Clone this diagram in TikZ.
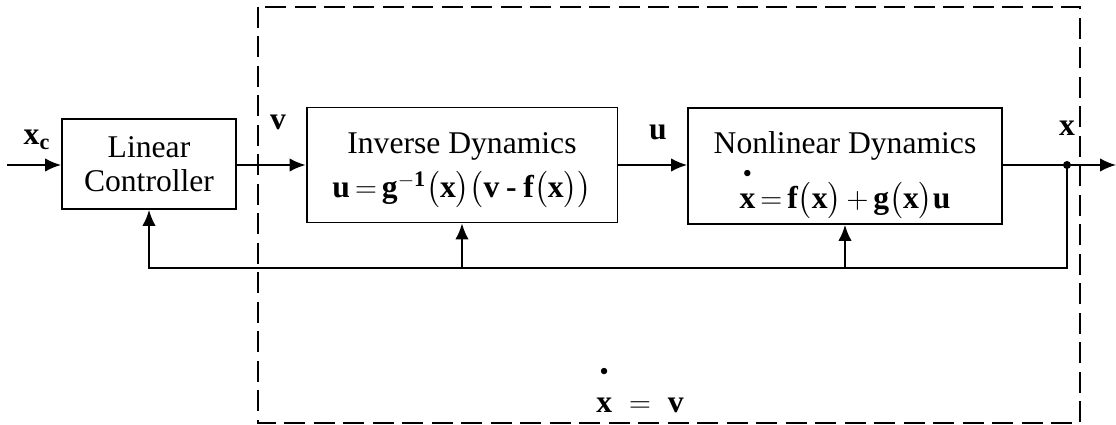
\documentclass[tikz,border=0pt]{standalone}
\usepackage{amsmath}
\usepackage{fontspec}
\setmainfont{Liberation Serif}
\usetikzlibrary{arrows.meta}

\newcommand{\xdotb}[1][6pt]{\overset{\raisebox{#1}{$\scriptscriptstyle\bullet$}}{\mathbf{x}}}
\newcommand{\bminus}{\mathbin{\textbf{-}}}
\newcommand{\beq}{\,{=}\,}

\begin{document}
\begin{tikzpicture}[x=0.02cm, y=-0.02cm, >={Latex[length=3.2mm,width=2.7mm]}, line width=1.1pt,
    font=\fontsize{18}{19}\selectfont,
    block/.style={draw, line width=1.1pt, align=center, inner sep=0pt},
    lbl/.style={font=\fontsize{18}{19}\selectfont\bfseries}]
  \useasboundingbox (0,0) rectangle (1116,425);

  % dashed border of the linearized part
  \draw[line width=1.4pt, dash pattern=on 0.42cm off 0.17cm] (258,7) rectangle (1080,423);

  % blocks
  \node[block, minimum width=3.48cm, minimum height=1.8cm] (lin) at (149,164) {Linear\\Controller};
  \node[block, minimum width=6.22cm, minimum height=2.3cm] (inv) at (462,165)
    {\rule{0pt}{18pt}Inverse Dynamics\\[6pt]
     $\mathbf{u}\beq\mathbf{g}^{\mathbf{-1}}\bigl(\mathbf{x}\bigr)\bigl(\mathbf{v}\bminus\mathbf{f}\bigl(\mathbf{x}\bigr)\bigr)$};
  \node[block, minimum width=6.28cm, minimum height=2.32cm] (nl) at (845,166)
    {\rule{0pt}{23pt}Nonlinear Dynamics\\[3pt]
     $\xdotb\beq\mathbf{f}\bigl(\mathbf{x}\bigr)\,{+}\,\mathbf{g}\bigl(\mathbf{x}\bigr)\mathbf{u}$};

  \coordinate (in) at (7,165);
  \coordinate (out) at (1116,165);
  \coordinate (tap) at (1067,165);
  \coordinate (fb) at (1067,268);

  % signal path
  \draw[->] (in) -- (in -| lin.west);
  \draw[->] (lin.east |- tap) -- (inv.west |- tap);
  \draw[->] (inv.east |- tap) -- (nl.west |- tap);
  \draw[->] (nl.east |- tap) -- (out);
  \fill (tap) circle (0.08cm);

  % state feedback
  \draw[->] (tap) -- (fb) -| (lin.south);
  \draw[->] (inv.south |- fb) -- (inv.south);
  \draw[->] (nl.south |- fb) -- (nl.south);

  % signal names
  \node[lbl] (xc) at (37,140) {$\mathbf{x}_{\mathbf{c}}$};
  \node[lbl] (v) at (278,122) {v};
  \node[lbl] (u) at (658,132) {u};
  \node[lbl] (x) at (1067,128) {x};
  \node (eq) at (640,389) {$\xdotb[9pt]\;\;{=}\;\;\mathbf{v}$};
\end{tikzpicture}
\end{document}
